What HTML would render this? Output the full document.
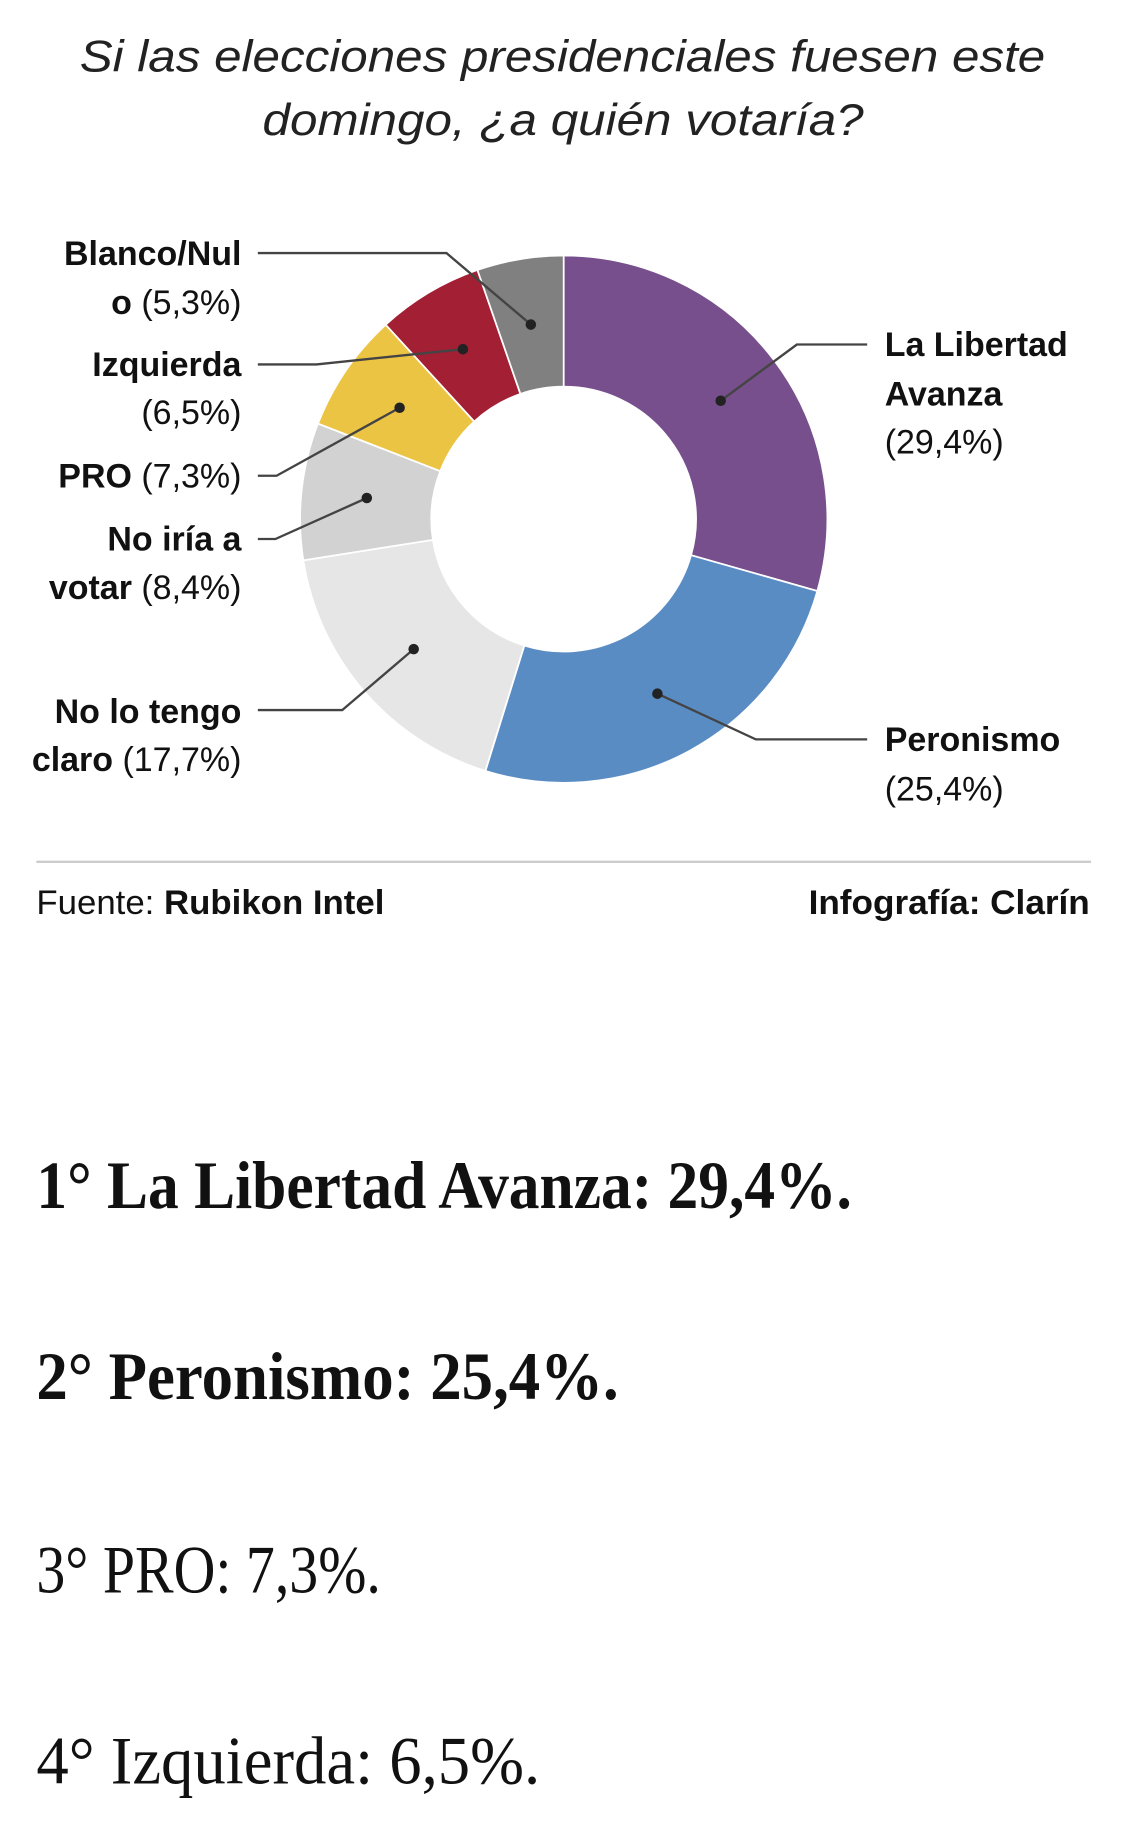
<!DOCTYPE html>
<html><head><meta charset="utf-8"><style>
html,body{margin:0;padding:0;background:#fff;}
svg{display:block;}
.t{font-family:"Liberation Sans",sans-serif;}
.s{font-family:"Liberation Serif",serif;}
</style></head><body>
<svg width="1125" height="1833" viewBox="0 0 960 1564.3" xmlns="http://www.w3.org/2000/svg">
<g class="t" font-style="italic" font-size="38" fill="#222">
<text x="68" y="61" textLength="824" lengthAdjust="spacingAndGlyphs">Si las elecciones presidenciales fuesen este</text>
<text x="224" y="115" textLength="513" lengthAdjust="spacingAndGlyphs">domingo, ¿a quién votaría?</text>
</g>
<g stroke="#fff" stroke-width="1.5">
<path d="M481,218 A225,225 0 0 1 697.5,504.4 L589.7,473.8 A113,113 0 0 0 481,330 Z" fill="#774f8c"/>
<path d="M697.5,504.4 A225,225 0 0 1 414.2,657.9 L447.4,550.9 A113,113 0 0 0 589.7,473.8 Z" fill="#5a8cc4"/>
<path d="M414.2,657.9 A225,225 0 0 1 258.8,478.2 L369.4,460.7 A113,113 0 0 0 447.4,550.9 Z" fill="#e6e6e6"/>
<path d="M258.8,478.2 A225,225 0 0 1 271.3,361.5 L375.7,402.1 A113,113 0 0 0 369.4,460.7 Z" fill="#d2d2d2"/>
<path d="M271.3,361.5 A225,225 0 0 1 329.1,277.1 L404.7,359.7 A113,113 0 0 0 375.7,402.1 Z" fill="#ecc444"/>
<path d="M329.1,277.1 A225,225 0 0 1 407.4,230.4 L444.1,336.2 A113,113 0 0 0 404.7,359.7 Z" fill="#a31f33"/>
<path d="M407.4,230.4 A225,225 0 0 1 481,218 L481,330 A113,113 0 0 0 444.1,336.2 Z" fill="#808080"/>
</g>
<g stroke="#444" stroke-width="2" fill="none">
<polyline points="220,216 381,216 453,277"/>
<polyline points="220,311 270,311 395,298"/>
<polyline points="220,406 236,406 341,348"/>
<polyline points="220,460 235,460 313,425"/>
<polyline points="220,606 292,606 353,554"/>
<polyline points="740,294 680,294 615,342"/>
<polyline points="740,631 645,631 561,592"/>
</g>
<g fill="#222">
<circle cx="453" cy="277" r="4.5"/><circle cx="395" cy="298" r="4.5"/><circle cx="341" cy="348" r="4.5"/>
<circle cx="313" cy="425" r="4.5"/><circle cx="353" cy="554" r="4.5"/><circle cx="615" cy="342" r="4.5"/><circle cx="561" cy="592" r="4.5"/>
</g>
<g class="t" font-size="29" fill="#111" text-anchor="end">
<text x="206" y="226" font-weight="bold">Blanco/Nul</text>
<text x="206" y="268"><tspan font-weight="bold">o</tspan> (5,3%)</text>
<text x="206" y="321" font-weight="bold">Izquierda</text>
<text x="206" y="362">(6,5%)</text>
<text x="206" y="416"><tspan font-weight="bold">PRO</tspan> (7,3%)</text>
<text x="206" y="470" font-weight="bold">No iría a</text>
<text x="206" y="511"><tspan font-weight="bold">votar</tspan> (8,4%)</text>
<text x="206" y="617" font-weight="bold">No lo tengo</text>
<text x="206" y="658"><tspan font-weight="bold">claro</tspan> (17,7%)</text>
</g>
<g class="t" font-size="29" fill="#111">
<text x="755" y="304" font-weight="bold">La Libertad</text>
<text x="755" y="346" font-weight="bold">Avanza</text>
<text x="755" y="387">(29,4%)</text>
<text x="755" y="641" font-weight="bold">Peronismo</text>
<text x="755" y="683">(25,4%)</text>
</g>
<line x1="31" y1="735.5" x2="931" y2="735.5" stroke="#ccc" stroke-width="2"/>
<g class="t" font-size="29" fill="#111">
<text x="31" y="780" textLength="297" lengthAdjust="spacingAndGlyphs">Fuente: <tspan font-weight="bold">Rubikon Intel</tspan></text>
<text x="690" y="780" font-weight="bold" textLength="240" lengthAdjust="spacingAndGlyphs">Infografía: Clarín</text>
</g>
<g class="s" font-size="58" fill="#111">
<text x="31" y="1031" font-weight="bold" textLength="696" lengthAdjust="spacingAndGlyphs">1° La Libertad Avanza: 29,4%.</text>
<text x="31" y="1194" font-weight="bold" textLength="497" lengthAdjust="spacingAndGlyphs">2° Peronismo: 25,4%.</text>
<text x="31" y="1359" textLength="294" lengthAdjust="spacingAndGlyphs">3° PRO: 7,3%.</text>
<text x="31" y="1522" textLength="430" lengthAdjust="spacingAndGlyphs">4° Izquierda: 6,5%.</text>
</g>
</svg>
</body></html>
